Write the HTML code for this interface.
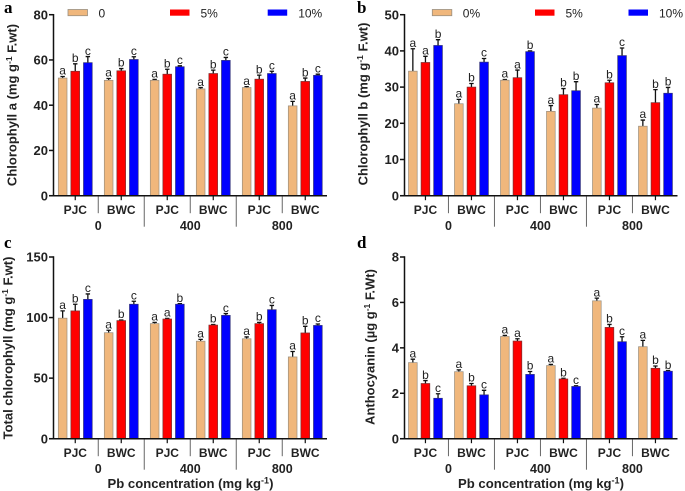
<!DOCTYPE html>
<html>
<head>
<meta charset="utf-8">
<style>
html,body{margin:0;padding:0;background:#fff;}
svg{display:block;font-family:"Liberation Sans",Arial,sans-serif;filter:blur(0.35px);}
</style>
</head>
<body>
<svg id="fig" width="685" height="491" viewBox="0 0 685 491" xmlns="http://www.w3.org/2000/svg"></svg>
<script>
const groupLabels = ["PJC", "BWC", "PJC", "BWC", "PJC", "BWC"];
const pbLabels = ["0", "400", "800"];
const seriesColors = ["#f0b77c", "#ff0000", "#0000ff"];

const aTicks = [0, 20, 40, 60, 80];
const aValues0 = [52, 51, 51, 47.2, 47.8, 39.7];
const aValues5 = [55, 55.2, 53.7, 54, 51.5, 50.5];
const aValues10 = [58.8, 60.2, 57, 59.8, 54, 53.2];
const aErr0 = [0.7, 0.8, 0.4, 0.6, 0.4, 2];
const aErr5 = [3.3, 1, 2.2, 1.5, 1.8, 1.5];
const aErr10 = [2.7, 1.2, 0.4, 1.3, 1, 0.5];
const aLetters = ["abc", "abc", "abc", "abc", "abc", "abc"];
const aLegend = ["0", "5%", "10%"];

const bTicks = [0, 10, 20, 30, 40, 50];
const bValues0 = [34.4, 25.4, 31.9, 23.3, 24.2, 19.2];
const bValues5 = [36.8, 30, 32.6, 27.9, 31.2, 25.7];
const bValues10 = [41.5, 36.9, 39.8, 29, 38.7, 28.3];
const bErr0 = [6.2, 1.2, 0.2, 1.6, 1, 1.7];
const bErr5 = [1.7, 1, 2.1, 1.7, 0.7, 3.6];
const bErr10 = [1.6, 1, 0.2, 2.5, 2.1, 1.6];
const bLetters = ["aab", "abc", "aab", "abb", "abc", "abb"];
const bLegend = ["0%", "5%", "10%"];

const cTicks = [0, 50, 100, 150];
const cValues0 = [99.5, 87.5, 95, 80.5, 82.5, 67.5];
const cValues5 = [105.5, 97.5, 98.8, 93.8, 95, 87.3];
const cValues10 = [115, 111, 111, 101.8, 106.5, 93.5];
const cErr0 = [6, 2, 1, 1.5, 1.5, 4.5];
const cErr5 = [5.5, 0.5, 0.5, 0.5, 1, 5.5];
const cErr10 = [4.5, 2.5, 0.5, 1.5, 3.5, 1.2];
const cLetters = ["abc", "abc", "aab", "abc", "abc", "abc"];

const dTicks = [0, 2, 4, 6, 8];
const dValues0 = [3.35, 2.95, 4.5, 3.22, 6.07, 4.05];
const dValues5 = [2.43, 2.33, 4.3, 2.63, 4.9, 3.1];
const dValues10 = [1.78, 1.93, 2.83, 2.3, 4.27, 2.97];
const dErr0 = [0.15, 0.08, 0.05, 0.05, 0.12, 0.28];
const dErr5 = [0.13, 0.1, 0.1, 0.03, 0.13, 0.1];
const dErr10 = [0.2, 0.2, 0.13, 0.03, 0.22, 0.03];
const dLetters = ["abc", "abc", "aab", "abc", "abc", "abb"];

const NS = "http://www.w3.org/2000/svg";
const fig = document.getElementById("fig");

function mk(parent, tag, attrs, txt) {
  const e = document.createElementNS(NS, tag);
  for (const k in attrs) e.setAttribute(k, attrs[k]);
  if (txt !== undefined) e.textContent = txt;
  parent.appendChild(e);
  return e;
}

function drawPanel(cfg) {
  const g = mk(fig, "g", {});
  
  

  const yScale = v => cfg.y0 - (v / cfg.max) * (cfg.y0 - cfg.yTop);
  const barW = 8.7, barGap = 12.6, groupStep = 46;
  const barX = (gi, si) => cfg.firstBar + gi * groupStep + si * barGap;
  const groupC = gi => barX(gi, 1) + barW / 2;

  const letter = mk(g, "text", {x: cfg.letterX, y: cfg.letterY, "font-family": '"Liberation Serif",serif', "font-weight": "bold", "font-size": 17, fill: "#000"}, cfg.id);
  
  

  // bars, error bars, significance letters
  cfg.values.forEach((series, si) => {
    series.forEach((v, gi) => {
      const x = barX(gi, si), top = yScale(v), cx = x + barW / 2;
      const errTop = yScale(v + cfg.errs[si][gi]);
      const err = mk(g, "path", {d: `M${cx} ${top}V${errTop}M${cx - 2.2} ${errTop}H${cx + 2.2}`, stroke: "#111", "stroke-width": 1.3, fill: "none"});
      
      
      const bar = mk(g, "rect", {x: x, y: top, width: barW, height: cfg.y0 - top, fill: seriesColors[si], stroke: si === 0 ? "#9a8f80" : (si === 1 ? "#7a3030" : "#30307a"), "stroke-width": 0.7});
      
      
      const sig = mk(g, "text", {x: cx, y: errTop - 1.8, "text-anchor": "middle", "font-size": 12, fill: "#222"}, cfg.letters[gi][si]);
      
      
    });
  });

  // axes
  const yAxis = mk(g, "line", {x1: cfg.axisX, x2: cfg.axisX, y1: cfg.yTop - 0.7, y2: cfg.y0 + 0.7, stroke: "#111", "stroke-width": 1.5});
  
  
  const xAxis = mk(g, "line", {x1: cfg.axisX - 4.5, x2: cfg.axisEnd, y1: cfg.y0, y2: cfg.y0, stroke: "#111", "stroke-width": 1.5});
  
  

  cfg.ticks.forEach(t => {
    const y = yScale(t);
    const tick = mk(g, "line", {x1: cfg.axisX - 4.5, x2: cfg.axisX, y1: y, y2: y, stroke: "#111", "stroke-width": 1.5});
    
    
    const lab = mk(g, "text", {x: cfg.axisX - 5.5, y: y + 4.6, "text-anchor": "end", "font-size": 13, "font-weight": "bold", fill: "#222"}, t);
    
    
  });

  // categories
  groupLabels.forEach((name, gi) => {
    const cx = groupC(gi);
    const tick = mk(g, "line", {x1: cx, x2: cx, y1: cfg.y0, y2: cfg.y0 + 4.5, stroke: "#111", "stroke-width": 1.2});
    
    
    const lab = mk(g, "text", {x: cx, y: cfg.y0 + 18.5, "text-anchor": "middle", "font-size": 12, "font-weight": "bold", fill: "#222"}, name);
    
    
    if (gi < 5) {
      const long = gi % 2 === 1;
      const x = cx + groupStep / 2;
      const sep = mk(g, "line", {x1: x, x2: x, y1: cfg.y0 + 0.7, y2: cfg.y0 + (long ? 31 : 17.5), stroke: "#666", "stroke-width": 1});
      
      
    }
  });
  pbLabels.forEach((name, i) => {
    const cx = groupC(i * 2) + groupStep / 2;
    const lab = mk(g, "text", {x: cx, y: cfg.y0 + 34.5, "text-anchor": "middle", "font-size": 12.5, "font-weight": "bold", fill: "#222"}, name);
    
    
  });

  // y title
  const yt = mk(g, "text", {transform: `translate(${cfg.titleX},${cfg.titleY}) rotate(-90)`, "text-anchor": "middle", "font-size": 13, "font-weight": "bold", fill: "#222"});
  
  
  mk(yt, "tspan", {}, cfg.title[0]);
  mk(yt, "tspan", {dy: -4.5, "font-size": 8.5}, "-1");
  mk(yt, "tspan", {dy: 4.5}, cfg.title[1]);

  // x title
  if (cfg.xTitleX) {
    const xt = mk(g, "text", {x: cfg.xTitleX, y: 488, "text-anchor": "middle", "font-size": 13.1, "font-weight": "bold", fill: "#222"});
    
    
    mk(xt, "tspan", {}, "Pb concentration (mg kg");
    mk(xt, "tspan", {dy: -4.5, "font-size": 9}, "-1");
    mk(xt, "tspan", {dy: 4.5}, ")");
  }

  // legend
  if (cfg.legend) {
    cfg.legend.forEach((name, i) => {
      const lx = cfg.legendX[i];
      const sw = mk(g, "rect", {x: lx, y: 9.5, width: 19.5, height: 6.2, fill: seriesColors[i], stroke: i === 0 ? "#9a8f80" : "none", "stroke-width": 0.8});
      
      
      const lt = mk(g, "text", {x: lx + 30.5, y: 17.5, "font-size": 12, fill: "#222"}, name);
      
      
    });
  }
}

drawPanel({id: "a", ticks: aTicks, max: 80, y0: 195.7, yTop: 14.7, axisX: 53.5, axisEnd: 327, firstBar: 58.3,
  values: [aValues0, aValues5, aValues10], errs: [aErr0, aErr5, aErr10], letters: aLetters,
  letterX: 4, letterY: 13, titleX: 16.5, titleY: 105, title: ["Chlorophyll a (mg g", " F.wt)"],
  legend: aLegend, legendX: [68, 170, 267.7]});
drawPanel({id: "b", ticks: bTicks, max: 50, y0: 195.7, yTop: 14.7, axisX: 404.5, axisEnd: 677.5, firstBar: 408.5,
  values: [bValues0, bValues5, bValues10], errs: [bErr0, bErr5, bErr10], letters: bLetters,
  letterX: 357, letterY: 13, titleX: 367.5, titleY: 104, title: ["Chlorophyll b (mg g", " F.wt)"],
  legend: bLegend, legendX: [432.3, 535, 628.5]});
drawPanel({id: "c", ticks: cTicks, max: 150, y0: 438.7, yTop: 257, axisX: 53.5, axisEnd: 327, firstBar: 58.3,
  values: [cValues0, cValues5, cValues10], errs: [cErr0, cErr5, cErr10], letters: cLetters,
  letterX: 4, letterY: 248, titleX: 12.5, titleY: 348, title: ["Total chlorophyll (mg g", " F.wt)"],
  xTitleX: 190.5});
drawPanel({id: "d", ticks: dTicks, max: 8, y0: 438.7, yTop: 257, axisX: 404.5, axisEnd: 677.5, firstBar: 408.5,
  values: [dValues0, dValues5, dValues10], errs: [dErr0, dErr5, dErr10], letters: dLetters,
  letterX: 357, letterY: 248, titleX: 374.5, titleY: 347, title: ["Anthocyanin (µg g", " F.Wt)"],
  xTitleX: 541});
</script>
</body>
</html>
